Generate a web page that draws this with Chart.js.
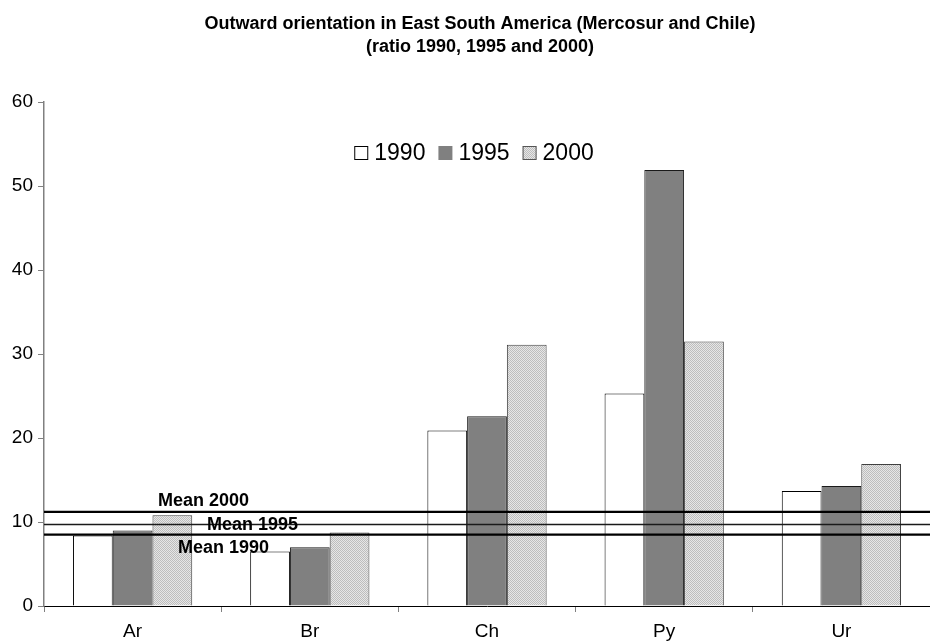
<!DOCTYPE html>
<html>
<head>
<meta charset="utf-8">
<script src="https://cdn.jsdelivr.net/npm/chart.js@4/dist/chart.umd.min.js"></script>
<style>
  html, body { margin: 0; padding: 0; background: #ffffff; }
  #wrap { width: 930px; height: 642px; position: relative; }
</style>
</head>
<body>
<div id="wrap"><canvas id="chart" width="930" height="642"></canvas></div>
<script>
// Country codes on the category axis
const countries = ['Ar', 'Br', 'Ch', 'Py', 'Ur'];
// Outward orientation ratios per year
const ratio1990 = [8.4, 6.5, 20.9, 25.3, 13.7];
const ratio1995 = [9.0, 7.0, 22.6, 51.9, 14.3];
const ratio2000 = [10.8, 8.75, 31.1, 31.5, 16.9];
// Regional means drawn as horizontal reference lines
const meanYears = ['2000', '1995', '1990'];
const meanValues = [11.2, 9.7, 8.5];
// Value axis ticks
const yTicks = [0, 10, 20, 30, 40, 50, 60];
const titleLines = [
  'Outward orientation in East South America (Mercosur and Chile)',
  '(ratio 1990, 1995 and 2000)'
];

const FONT = 'Arial, "Liberation Sans", sans-serif';

// Fine dotted grey fill for the 2000 series
function dottedPattern() {
  const c = document.createElement('canvas');
  c.width = 2; c.height = 2;
  const g = c.getContext('2d');
  g.fillStyle = '#e6e6e6'; g.fillRect(0, 0, 2, 2);
  g.fillStyle = '#bdbdbd'; g.fillRect(0, 0, 1, 1); g.fillRect(1, 1, 1, 1);
  return g.createPattern(c, 'repeat');
}
const ctx0 = document.getElementById('chart').getContext('2d');
const pattern2000 = dottedPattern();

// Mean lines and their labels
const meanStyle = {
  '2000': { width: 2.2, color: '#000000', dx: 114, dy: -10.5 },
  '1995': { width: 1.5, color: '#1a1a1a', dx: 163, dy: 0.5 },
  '1990': { width: 2.2, color: '#000000', dx: 134, dy: 13 }
};
const meanLinesPlugin = {
  id: 'meanLines',
  afterDatasetsDraw(chart) {
    const { ctx, chartArea, scales } = chart;
    ctx.save();
    meanYears.forEach((yr, i) => {
      const s = meanStyle[yr];
      const y = scales.y.getPixelForValue(meanValues[i]);
      ctx.beginPath();
      ctx.lineWidth = s.width;
      ctx.strokeStyle = s.color;
      ctx.moveTo(chartArea.left, y);
      ctx.lineTo(chartArea.right, y);
      ctx.stroke();
    });
    ctx.font = 'bold 18px ' + FONT;
    ctx.fillStyle = '#000000';
    ctx.textAlign = 'left';
    ctx.textBaseline = 'middle';
    meanYears.forEach((yr, i) => {
      const s = meanStyle[yr];
      const y = scales.y.getPixelForValue(meanValues[i]);
      ctx.fillText('Mean ' + yr, chartArea.left + s.dx, y + s.dy);
    });
    ctx.restore();
  }
};

// Title and in-plot legend
const headerPlugin = {
  id: 'header',
  afterDraw(chart) {
    const { ctx } = chart;
    ctx.save();
    ctx.fillStyle = '#000000';
    ctx.textAlign = 'center';
    ctx.textBaseline = 'alphabetic';
    ctx.font = 'bold 18px ' + FONT;
    ctx.fillText(titleLines[0], 480, 28.5);
    ctx.fillText(titleLines[1], 480, 52);

    // legend
    ctx.font = '23px ' + FONT;
    ctx.textAlign = 'left';
    ctx.textBaseline = 'middle';
    const items = chart.data.datasets;
    const box = 14, gapBox = 6, gapItem = 13;
    let total = 0;
    items.forEach((d, i) => {
      total += box + gapBox + ctx.measureText(d.label).width + (i < items.length - 1 ? gapItem : 0);
    });
    let x = 474 - total / 2;
    const cy = 153;
    items.forEach((d) => {
      ctx.fillStyle = d.backgroundColor;
      ctx.fillRect(x, cy - box / 2, box, box);
      if (d.legendBorder) {
        ctx.lineWidth = 1;
        ctx.strokeStyle = d.legendBorder;
        ctx.strokeRect(x + 0.5, cy - box / 2 + 0.5, box - 1, box - 1);
      }
      x += box + gapBox;
      ctx.fillStyle = '#000000';
      ctx.fillText(d.label, x, cy + 1);
      x += ctx.measureText(d.label).width + gapItem;
    });
    ctx.restore();
  }
};

new Chart(ctx0, {
  type: 'bar',
  data: {
    labels: countries,
    datasets: [
      { label: '1990', data: ratio1990, backgroundColor: '#ffffff', borderColor: '#000000', borderWidth: 1, legendBorder: '#000000' },
      { label: '1995', data: ratio1995, backgroundColor: '#808080', borderColor: '#1a1a1a', borderWidth: 1, legendBorder: null },
      { label: '2000', data: ratio2000, backgroundColor: pattern2000, borderColor: '#404040', borderWidth: 1, legendBorder: '#555555' }
    ]
  },
  options: {
    responsive: false,
    animation: false,
    layout: { padding: { top: 102, left: 0, right: 0, bottom: 0 } },
    datasets: { bar: { barPercentage: 1.0, categoryPercentage: 0.673, borderSkipped: 'start' } },
    plugins: {
      legend: { display: false },
      title: { display: false },
      tooltip: { enabled: false }
    },
    scales: {
      x: {
        offset: true,
        grid: { offset: true, drawOnChartArea: false, drawTicks: true, tickLength: 6, color: '#808080' },
        border: { display: true, color: '#000000', width: 1 },
        ticks: { color: '#000000', font: { family: FONT, size: 19 }, padding: 8 },
        afterFit(scale) { scale.height = 36; }
      },
      y: {
        min: 0, max: 60,
        afterBuildTicks(scale) { scale.ticks = yTicks.map(v => ({ value: v })); },
        grid: { drawOnChartArea: false, drawTicks: true, tickLength: 6, color: '#808080' },
        border: { display: true, color: '#808080', width: 1.5 },
        ticks: { color: '#000000', font: { family: FONT, size: 19 }, padding: 5 },
        afterFit(scale) { scale.width = 44; }
      }
    }
  },
  plugins: [meanLinesPlugin, headerPlugin]
});
</script>
</body>
</html>
